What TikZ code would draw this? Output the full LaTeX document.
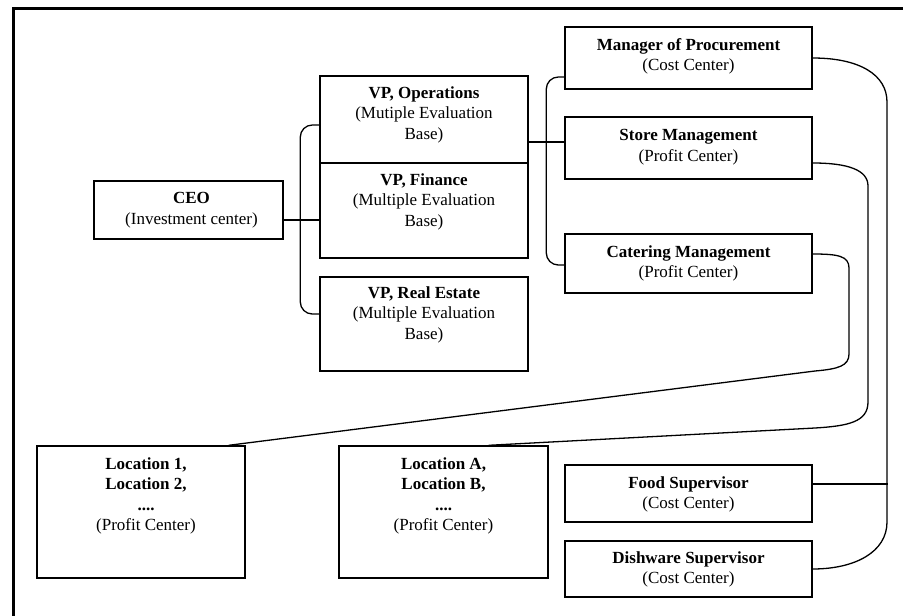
\documentclass[tikz,border=0pt]{standalone}
\usepackage{fontspec}
\setmainfont{Liberation Serif}

\begin{document}
\begin{tikzpicture}[x=1pt,y=-1pt,
    unit/.style={draw, line width=1.4pt, inner sep=0pt},
    caption/.style={anchor=north, align=center, inner sep=0pt, font=\fontsize{17}{20.5}\selectfont},
    link/.style={line width=1.3pt}]
    \useasboundingbox (0,0) rectangle (903,616);
    \draw[line width=3pt] (13,616)--(13,8)--(903,8);
    % boxes
    \node[unit, minimum width=189, minimum height=58] (ceo) at (188.5,210) {};
    \node[unit, minimum width=208, minimum height=87] (vpops) at (424,119.5) {};
    \node[unit, minimum width=208, minimum height=95] (vpfin) at (424,210.5) {};
    \node[unit, minimum width=208, minimum height=94] (vpre) at (424,324) {};
    \node[unit, minimum width=247, minimum height=62] (proc) at (688.5,58) {};
    \node[unit, minimum width=247, minimum height=62] (store) at (688.5,148) {};
    \node[unit, minimum width=247, minimum height=59] (cater) at (688.5,263.5) {};
    \node[unit, minimum width=208, minimum height=132] (loc1) at (141,512) {};
    \node[unit, minimum width=209, minimum height=132] (locA) at (443.5,512) {};
    \node[unit, minimum width=247, minimum height=57] (food) at (688.5,493.5) {};
    \node[unit, minimum width=247, minimum height=56] (dish) at (688.5,569) {};
    % texts
    \node[caption] (ceo-t) at ([xshift=3pt,yshift=-12pt]ceo.north) {\textbf{CEO}\\(Investment center)};
    \node[caption] (vpops-t) at ([yshift=-11pt]vpops.north) {\textbf{VP, Operations}\\(Mutiple Evaluation\\Base)};
    \node[caption] (vpfin-t) at ([yshift=-11pt]vpfin.north) {\textbf{VP, Finance}\\(Multiple Evaluation\\Base)};
    \node[caption] (vpre-t) at ([yshift=-10pt]vpre.north) {\textbf{VP, Real Estate}\\(Multiple Evaluation\\Base)};
    \node[caption] (proc-t) at ([yshift=-12pt]proc.north) {\textbf{Manager of Procurement}\\(Cost Center)};
    \node[caption] (store-t) at ([yshift=-13pt]store.north) {\textbf{Store Management}\\(Profit Center)};
    \node[caption] (cater-t) at ([yshift=-12pt]cater.north) {\textbf{Catering Management}\\(Profit Center)};
    \node[caption] (loc1-t) at ([xshift=5pt,yshift=-12pt]loc1.north) {\textbf{Location 1,}\\\textbf{Location 2,}\\\textbf{....}\\(Profit Center)};
    \node[caption] (locA-t) at ([yshift=-12pt]locA.north) {\textbf{Location A,}\\\textbf{Location B,}\\\textbf{....}\\(Profit Center)};
    \node[caption] (food-t) at ([yshift=-12pt]food.north) {\textbf{Food Supervisor}\\(Cost Center)};
    \node[caption] (dish-t) at ([yshift=-11pt]dish.north) {\textbf{Dishware Supervisor}\\(Cost Center)};
    % connectors
    \draw[link] ([yshift=-10pt]ceo.east) coordinate (c1)--(c1 -| vpfin.west);
    \draw[link, rounded corners=12pt] ([yshift=-5.5pt]vpops.west)--++(-19,0) |- ([yshift=10pt]vpre.west);
    \draw[link] ([yshift=-22.5pt]vpops.east) coordinate (c2)--(c2 -| store.west);
    \draw[link, rounded corners=12pt] ([yshift=-19pt]proc.west)--++(-18,0) |- ([yshift=-1.5pt]cater.west);
    \draw[link] (proc.east) .. controls (860,58) and (887,75) .. (887,102)--(887,522) .. controls (887,552) and (855,569) .. (dish.east);
    \draw[link] ([yshift=9.5pt]food.east)--++(75,0);
    \draw[link] ([yshift=-15pt]store.east) .. controls (848,163) and (868,170) .. (868,186)--(868,402) .. controls (868,422) and (848,426) .. (815,428)--([xshift=-60pt]locA.north east);
    \draw[link] ([yshift=9.5pt]cater.east) .. controls (838,254) and (849,256) .. (849,268)--(849,354) .. controls (849,366) and (838,369) .. (815,371)--([xshift=-17pt]loc1.north east);
\end{tikzpicture}
\end{document}
